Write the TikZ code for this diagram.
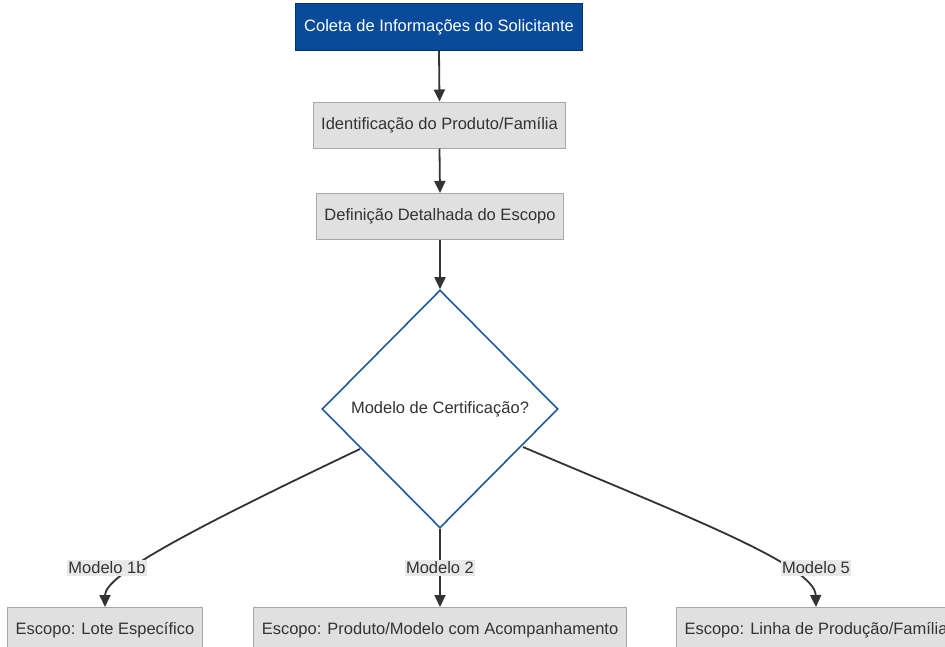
\documentclass[tikz,border=0pt]{standalone}
\usepackage{fontspec}
\setmainfont{Liberation Sans}
\usetikzlibrary{arrows.meta,shapes.geometric}
\definecolor{txt}{HTML}{333333}
\definecolor{navy}{HTML}{0A4A9A}
\definecolor{navyline}{HTML}{06306A}
\definecolor{boxfill}{HTML}{E0E0E0}
\definecolor{boxline}{HTML}{A8A8A8}
\definecolor{diamline}{HTML}{1F5AA0}
\definecolor{lblfill}{HTML}{E8E8E8}
\definecolor{edge}{HTML}{333333}
\tikzset{
  topbox/.style={rectangle,draw=navyline,fill=navy,text=white,line width=1pt,
    minimum height=47pt,inner xsep=9pt,font=\fontsize{16.5}{19}\selectfont},
  graybox/.style={rectangle,draw=boxline,fill=boxfill,text=txt,line width=1pt,
    minimum height=46pt,inner xsep=8pt,font=\fontsize{16.5}{19}\selectfont},
  decision/.style={diamond,draw=diamline,fill=white,line width=1.6pt,text=txt,
    minimum width=236pt,minimum height=238pt,inner sep=0pt,aspect=1,
    font=\fontsize{16.5}{19}\selectfont},
  conn/.style={draw=edge,line width=1.8pt,-{Triangle[width=11pt,length=12pt]}},
  lbl/.style={fill=lblfill,text=txt,inner sep=1.5pt,font=\fontsize{16.5}{19}\selectfont}
}
\begin{document}
\begin{tikzpicture}[x=1pt,y=-1pt]
\clip (0,0) rectangle (945,646);
\fill[white] (0,0) rectangle (945,646);
\node[topbox] (a) at (439,27) {Coleta de Informações do Solicitante};
\node[graybox] (b) at (439.5,125) {Identificação do Produto/Família};
\node[graybox] (c) at (440,216.5) {Definição Detalhada do Escopo};
\node[decision] (d) at (440,409) {Modelo de Certificação?};
\node[graybox,anchor=north] (e1) at (105,607) {Escopo: Lote Específico};
\node[graybox,anchor=north] (e2) at (440,607) {Escopo: Produto/Modelo com Acompanhamento};
\node[graybox,anchor=north] (e3) at (816,607) {Escopo: Linha de Produção/Família};
\draw[conn] (a.south) -- (b.north);
\draw[conn] (b.south) -- (c.north);
\draw[conn] (c.south) -- (d.north);
\coordinate (s1) at (360,449);
\coordinate (s3) at (523,447);
\draw[conn] (s1) .. controls (190,530) and (105,575) .. (e1.north);
\draw[conn] (d.south) -- (e2.north);
\draw[conn] (s3) .. controls (683,515) and (815,565) .. (e3.north);
\node[lbl] (l1) at (107,568) {Modelo 1b};
\node[lbl] (l2) at (440,568) {Modelo 2};
\node[lbl] (l3) at (816,568) {Modelo 5};
\end{tikzpicture}
\end{document}
